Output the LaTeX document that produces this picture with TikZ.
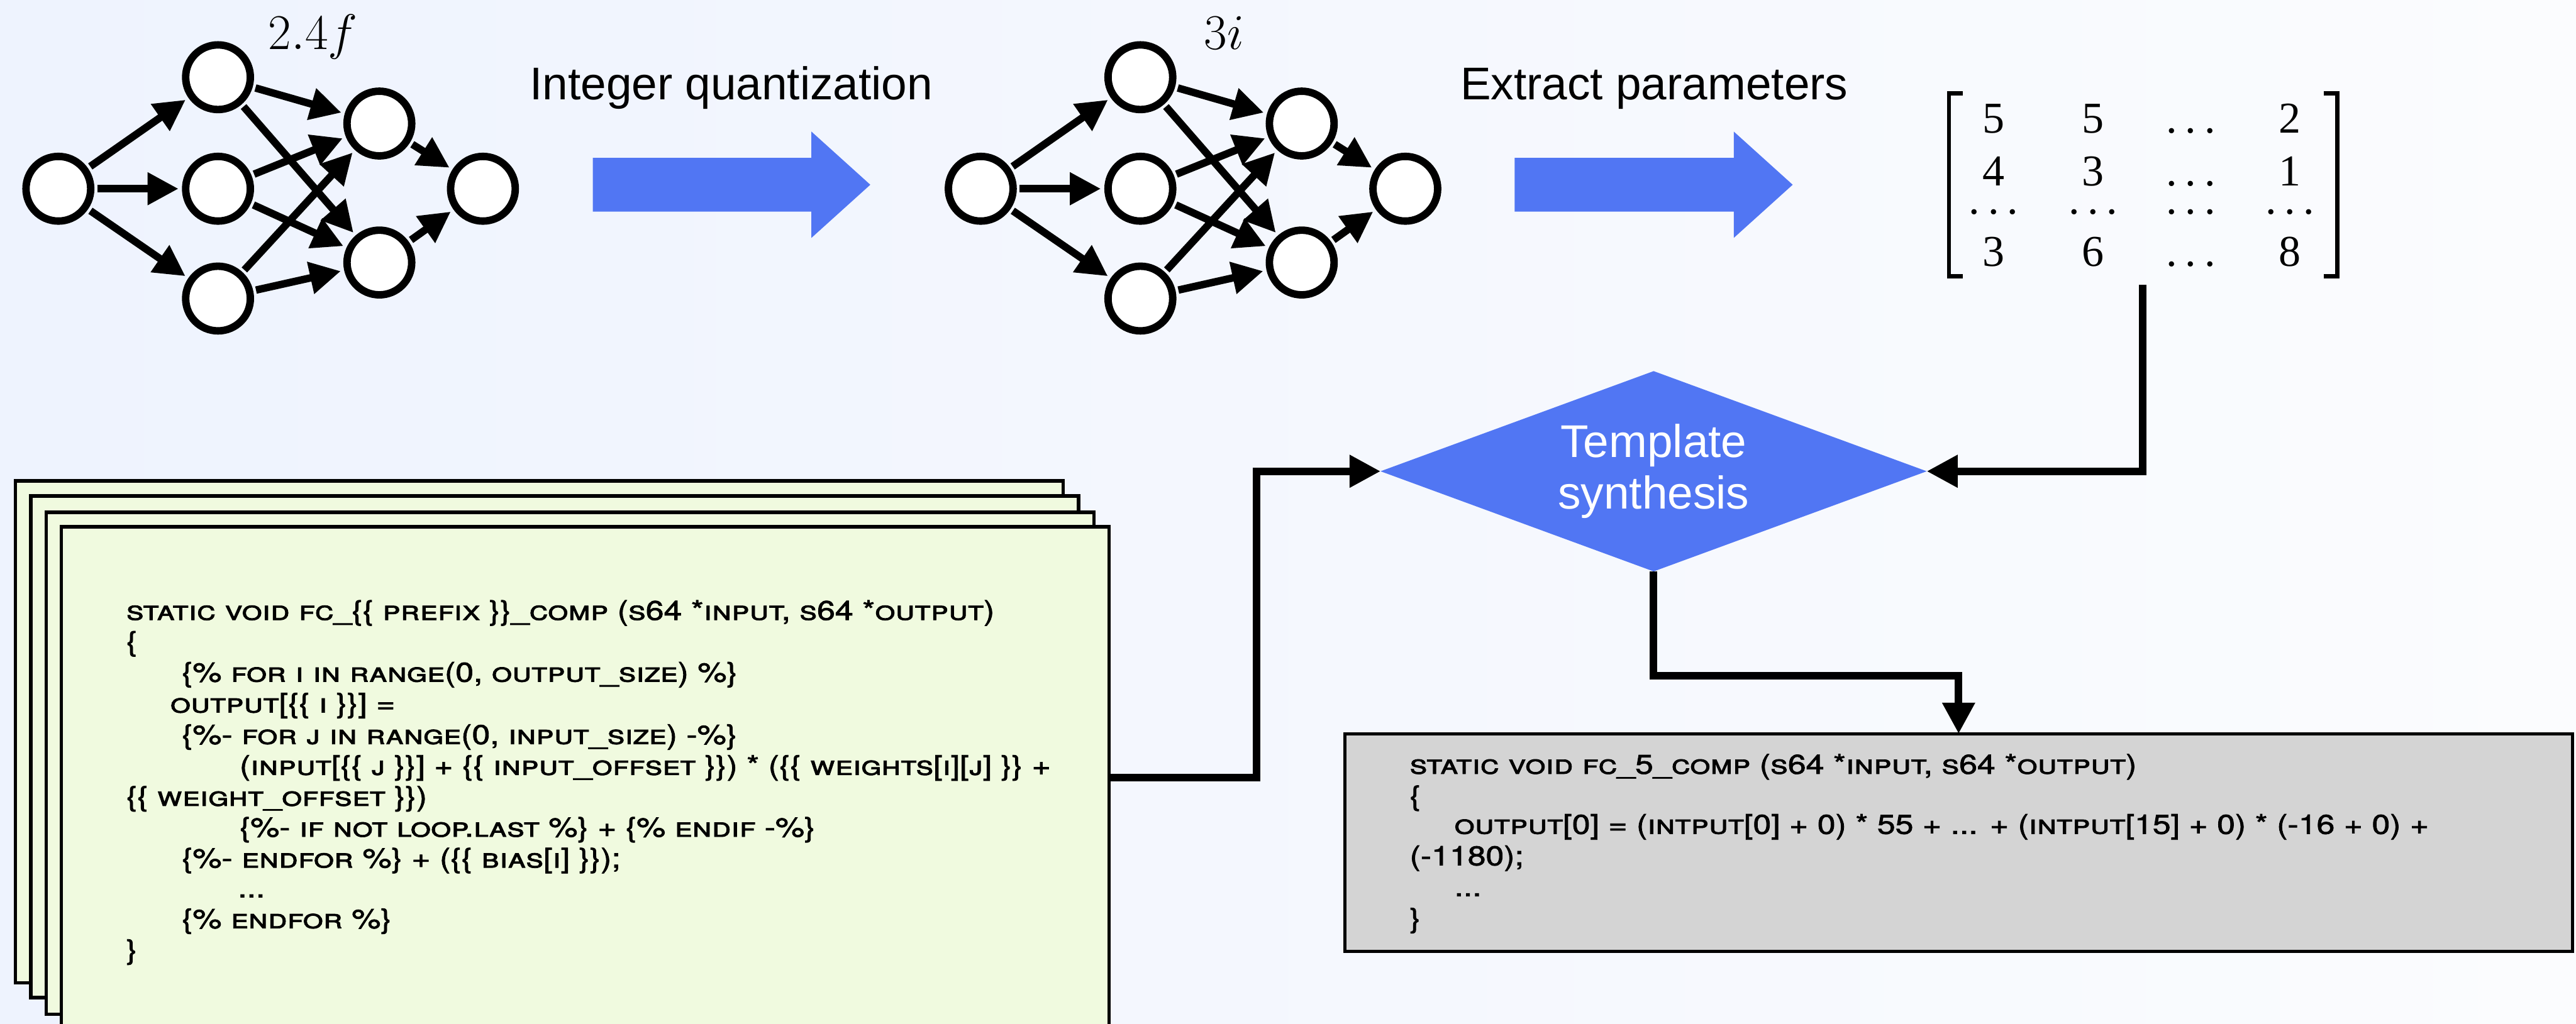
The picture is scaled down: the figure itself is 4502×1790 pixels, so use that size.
\documentclass[tikz,border=0pt]{standalone}
\usepackage{fontspec}
\usepackage{graphicx}
\usetikzlibrary{arrows.meta,shapes.geometric}

\newfontfamily\labelfont{Liberation Sans}
\newfontfamily\matfont{Liberation Serif}
\newfontfamily\codefont[Letters=SmallCaps,FakeBold=1.6]{TeX Gyre Heros}

\definecolor{bgleft}{RGB}{238,243,254}
\definecolor{bgright}{RGB}{251,252,254}
\definecolor{flowblue}{RGB}{81,118,243}
\definecolor{templategreen}{RGB}{240,250,223}
\definecolor{resultgray}{RGB}{212,212,212}

% widely spaced dots used inside the parameter matrix
\newcommand\mdots{.\kern4pt.\kern4pt.}
% one line of template / generated code
\newcommand\codeline[1]{\scalebox{1.2}[1]{\codefont\fontsize{13.5pt}{15pt}\selectfont #1}}

% a small fully connected network: 1 - 3 - 2 - 1 neurons
\newcommand\neuralnet[2]{%
  \begin{scope}[shift={(#2,0)}]
    \node[neuron] (#1i) at (102,330) {};
    \node[neuron] (#1a) at (381,135) {};
    \node[neuron] (#1b) at (381,330) {};
    \node[neuron] (#1c) at (381,522) {};
    \node[neuron] (#1d) at (663,216) {};
    \node[neuron] (#1e) at (663,459) {};
    \node[neuron] (#1o) at (844,330) {};
    \foreach \src/\dst in {i/a,i/b,i/c,a/d,a/e,b/d,b/e,c/d,c/e,d/o,e/o}
      \draw[nnedge] (#1\src) -- (#1\dst);
  \end{scope}}

\begin{document}
\begin{tikzpicture}[x=0.01cm,y=-0.01cm,
  neuron/.style={circle,draw,fill=white,line width=3.7pt,minimum size=1.13cm,inner sep=0pt},
  nnedge/.style={line width=3.7pt,-{Triangle[length=15.4pt,width=15.4pt]},
                 shorten <=0.05cm,shorten >=0.06cm},
  conn/.style={line width=3.7pt,-{Triangle[length=15.4pt,width=15.4pt]}},
  steplabel/.style={font=\labelfont\fontsize{22.8pt}{27pt}\selectfont,anchor=base,inner sep=0pt},
  netlabel/.style={font=\Huge,anchor=base,inner sep=0pt},
  matentry/.style={font=\matfont\fontsize{21.9pt}{26pt}\selectfont,anchor=base,inner sep=0pt},
  templatebox/.style={draw,line width=1.7pt,fill=templategreen,minimum width=18.3cm,
                      minimum height=8.77cm,inner sep=0pt,outer sep=0pt,anchor=north west},
  codetext/.style={anchor=base west,inner sep=0pt},
  bigarrow/.style={fill=flowblue}]

\useasboundingbox (0,0) rectangle (4502,1790);
\clip (0,0) rectangle (4502,1790);
\shade[left color=bgleft,right color=bgright] (0,0) rectangle (4502,1790);

% floating point network and its quantized counterpart
\neuralnet{f}{0}
\node[netlabel] (flabel) at (547,86) {$2.4f$};
\neuralnet{q}{1612}
\node[netlabel] (qlabel) at (2139,86) {$3i$};

% step arrows
\fill[bigarrow] (1036,276) -- (1418,276) -- (1418,230) -- (1521,323)
  -- (1418,416) -- (1418,370) -- (1036,370) -- cycle;
\fill[bigarrow] (2647,276) -- (3030,276) -- (3030,230) -- (3133,323)
  -- (3030,416) -- (3030,370) -- (2647,370) -- cycle;
\node[steplabel] (quantlabel) at (1278,174) {Integer quantization};
\node[steplabel] (extractlabel) at (2891,174) {Extract parameters};

% parameter matrix
\draw[line width=2pt] (3430,163) -- (3406,163) -- (3406,483) -- (3430,483);
\draw[line width=2pt] (4061,163) -- (4085,163) -- (4085,483) -- (4061,483);
\foreach \r/\y/\ca/\cb/\cc/\cd in {1/233/5/5/\mdots/2, 2/325/4/3/\mdots/1,
    3/374/\mdots/\mdots/\mdots/\mdots, 4/466/3/6/\mdots/8}{
  \node[matentry] (w\r a) at (3484,\y) {\ca};
  \node[matentry] (w\r b) at (3658,\y) {\cb};
  \node[matentry] (w\r c) at (3829,\y) {\cc};
  \node[matentry] (w\r d) at (4002,\y) {\cd};
}
\coordinate (matbot) at (3745,498);

% synthesis step
\node[diamond,aspect=2.73,fill=flowblue,minimum width=9.54cm,minimum height=3.5cm,
      inner sep=0pt,outer sep=0pt,text=white,align=center,
      font=\labelfont\fontsize{22.8pt}{25.6pt}\selectfont] (synth) at (2890,824)
      {Template\\synthesis};

% stack of code templates
\node[templatebox] (tpl1) at (27,841) {};
\node[templatebox] (tpl2) at (54,867) {};
\node[templatebox] (tpl3) at (81,896) {};
\node[templatebox] (tpl4) at (107,921) {};

\node[codetext] (g1) at (220,1084) {\codeline{static void fc\_\{\{ prefix \}\}\_comp (s64 *input, s64 *output)}};
\node[codetext] (g2) at (220,1138) {\codeline{\{}};
\node[codetext] (g3) at (317,1192) {\codeline{\{\% for i in range(0, output\_size) \%\}}};
\node[codetext] (g4) at (297,1246) {\codeline{output[\{\{ i \}\}] =}};
\node[codetext] (g5) at (317,1301) {\codeline{\{\%- for j in range(0, input\_size) -\%\}}};
\node[codetext] (g6) at (418,1355) {\codeline{(input[\{\{ j \}\}] + \{\{ input\_offset \}\}) * (\{\{ weights[i][j] \}\} +}};
\node[codetext] (g7) at (220,1409) {\codeline{\{\{ weight\_offset \}\})}};
\node[codetext] (g8) at (418,1463) {\codeline{\{\%- if not loop.last \%\} + \{\% endif -\%\}}};
\node[codetext] (g9) at (317,1517) {\codeline{\{\%- endfor \%\} + (\{\{ bias[i] \}\});}};
\node[codetext] (g10) at (415,1569) {\codeline{...}};
\node[codetext] (g11) at (317,1623) {\codeline{\{\% endfor \%\}}};
\node[codetext] (g12) at (220,1677) {\codeline{\}}};

% generated code
\node[draw,line width=1.5pt,fill=resultgray,minimum width=21.44cm,minimum height=3.8cm,
      inner sep=0pt,outer sep=0pt] (result) at (3423,1473) {};
\node[codetext] (k1) at (2463,1353) {\codeline{static void fc\_5\_comp (s64 *input, s64 *output)}};
\node[codetext] (k2) at (2463,1408) {\codeline{\{}};
\node[codetext] (k3) at (2541,1458) {\codeline{output[0] = (intput[0] + 0) * 55 + ... + (intput[15] + 0) * (-16 + 0) +}};
\node[codetext] (k4) at (2463,1513) {\codeline{(-1180);}};
\node[codetext] (k5) at (2541,1567) {\codeline{...}};
\node[codetext] (k6) at (2463,1622) {\codeline{\}}};

% connectors
\draw[conn] (tpl4.east) -- ++(258,0) |- (synth.west);
\draw[conn] (matbot) |- (synth.east);
\draw[conn] (synth.south) -- ++(0,182) -| (result.north);
\end{tikzpicture}
\end{document}
